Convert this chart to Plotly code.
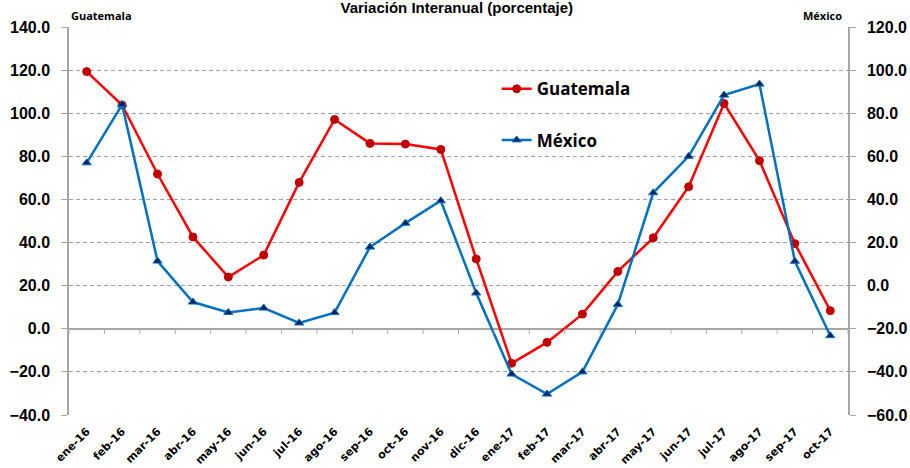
import plotly.graph_objects as go

meses = ["ene-16", "feb-16", "mar-16", "abr-16", "may-16", "jun-16", "jul-16", "ago-16",
         "sep-16", "oct-16", "nov-16", "dic-16", "ene-17", "feb-17", "mar-17", "abr-17",
         "may-17", "jun-17", "jul-17", "ago-17", "sep-17", "oct-17"]

guatemala = [119.3, 103.8, 71.8, 42.6, 24.0, 34.2, 67.9, 97.1, 86.0, 85.7, 83.2, 32.4,
             -16.0, -6.3, 6.8, 26.6, 42.2, 65.9, 104.5, 78.0, 39.5, 8.4]

mexico = [57.0, 84.0, 11.4, -7.6, -12.4, -10.4, -17.3, -12.5, 17.9, 29.0, 39.4, -3.4,
          -41.0, -50.3, -40.0, -8.7, 43.1, 60.0, 88.4, 93.5, 11.3, -23.2]

fig = go.Figure()

fig.add_trace(go.Scatter(
    x=meses, y=guatemala, name="Guatemala", mode="lines+markers", legendgroup="g",
    line=dict(color="#FF0000", width=2.5),
    marker=dict(symbol="circle", size=8, color="#C00000", line=dict(color="#C00000", width=1)),
))
fig.add_trace(go.Scatter(
    x=meses, y=mexico, name="México", mode="lines+markers", legendgroup="m", yaxis="y2",
    line=dict(color="#0070C0", width=2.5),
    marker=dict(symbol="triangle-up", size=8, color="#002060", line=dict(color="#0070C0", width=1)),
))

# little tick marks on the zero line, between the categories
for i in range(len(meses) + 1):
    fig.add_shape(type="line", xref="x", yref="y", x0=i - 0.5, x1=i - 0.5,
                  ysizemode="pixel", yanchor=0, y0=0, y1=-5,
                  line=dict(color="#A6A6A6", width=1))

tick_font = dict(family="Liberation Sans", size=16, color="black", weight="bold")

fig.update_layout(
    width=910, height=468,
    margin=dict(l=69, r=62, t=27, b=53),
    plot_bgcolor="white", paper_bgcolor="white",
    title=dict(text="<b>Variación Interanual (porcentaje)</b>", x=0.502, xanchor="center",
               y=1.0, yanchor="top", yref="container", pad=dict(t=2),
               font=dict(family="Liberation Sans", size=15, color="black")),
    xaxis=dict(type="category", range=[-0.5, len(meses) - 0.5], tickangle=-45,
               showgrid=False, showline=False, ticks="", automargin=False,
               ticklabelstandoff=7,
               tickfont=dict(family="DejaVu Sans", size=11, color="black", weight="bold")),
    yaxis=dict(range=[-40, 140], dtick=20, tickformat=".1f", tickfont=tick_font,
               automargin=False,
               showgrid=True, gridcolor="#A0A0A0", griddash="4px,3px", gridwidth=1,
               zeroline=True, zerolinecolor="#A6A6A6", zerolinewidth=1.5,
               showline=True, linecolor="#A6A6A6", linewidth=1.5,
               ticks="outside", ticklen=6, tickcolor="#A6A6A6", ticklabelstandoff=8),
    yaxis2=dict(range=[-60, 120], dtick=20, tickformat=".1f", tickfont=tick_font,
                automargin=False,
                overlaying="y", side="right", showgrid=False, zeroline=False,
                showline=True, linecolor="#A6A6A6", linewidth=1.5,
                ticks="outside", ticklen=6, tickcolor="#A6A6A6", ticklabelstandoff=8),
    legend=dict(x=0.549, y=0.886, xanchor="left", yanchor="top", bgcolor="rgba(0,0,0,0)",
                tracegroupgap=26,
                font=dict(family="Open Sans", size=17, color="black", weight="bold")),
    annotations=[
        dict(text="<b>Guatemala</b>", xref="paper", yref="paper", x=0, y=1.0, xanchor="left",
             yanchor="bottom", showarrow=False, yshift=2,
             font=dict(family="Open Sans", size=11, color="black")),
        dict(text="<b>México</b>", xref="paper", yref="paper", x=0.995, y=1.0, xanchor="right",
             yanchor="bottom", showarrow=False, yshift=2,
             font=dict(family="Open Sans", size=11, color="black")),
    ],
)

# drop the default page margin so the 910x468 figure fills the window exactly
fig.write_html("out.html", config={"displayModeBar": False},
               post_script="document.body.style.margin='0';")
